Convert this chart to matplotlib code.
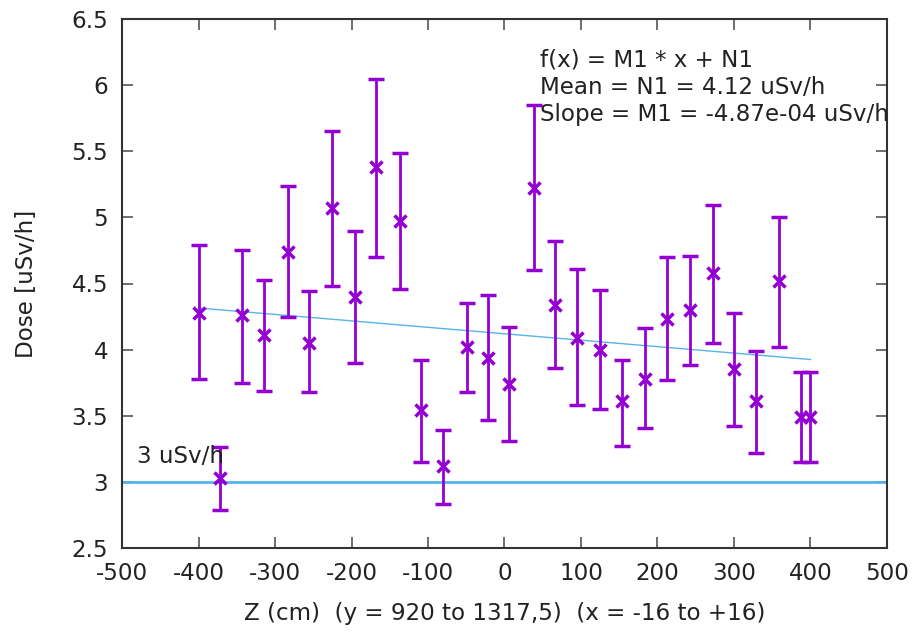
import matplotlib
matplotlib.use("Agg")
import matplotlib.pyplot as plt
import numpy as np

plt.rcParams['axes.unicode_minus'] = False

z = [-400, -372, -343, -314, -283, -255, -225, -196, -168, -137, -109, -81, -49, -22, 6,
     38, 66, 95, 125, 154, 184, 213, 242, 272, 300, 329, 359, 388, 400]
dose = [4.28, 3.03, 4.26, 4.11, 4.74, 4.05, 5.07, 4.40, 5.38, 4.97, 3.54, 3.12, 4.02, 3.94, 3.74,
        5.22, 4.34, 4.09, 4.00, 3.61, 3.78, 4.23, 4.30, 4.58, 3.85, 3.61, 4.52, 3.49, 3.49]
upper = [4.79, 3.26, 4.75, 4.53, 5.24, 4.44, 5.65, 4.90, 6.05, 5.49, 3.92, 3.39, 4.35, 4.41, 4.17,
         5.85, 4.82, 4.61, 4.45, 3.92, 4.16, 4.70, 4.71, 5.09, 4.28, 3.99, 5.00, 3.83, 3.83]
lower = [3.78, 2.79, 3.75, 3.69, 4.25, 3.68, 4.48, 3.90, 4.70, 4.46, 3.15, 2.83, 3.68, 3.47, 3.31,
         4.60, 3.86, 3.58, 3.55, 3.27, 3.41, 3.77, 3.88, 4.05, 3.42, 3.22, 4.02, 3.15, 3.15]
M1 = -4.87e-04
N1 = 4.12
limit = 3.0
fit_x = [-400, 400]

purple = "#9400d3"
blue = "#56b4e9"
FS = 16.6

fig = plt.figure(figsize=(9.19, 6.32), dpi=100)
ax = fig.add_axes([122/919, 1-548/632, 765/919, 529/632])

z_a = np.array(z); d_a = np.array(dose)
yerr = [d_a - np.array(lower), np.array(upper) - d_a]
ax.errorbar(z_a, d_a, yerr=yerr, fmt='x', color=purple, ecolor=purple, elinewidth=2,
            capsize=6, capthick=2, markersize=8, markeredgewidth=2.5, zorder=3)

fx = np.array(fit_x)
ax.plot(fx, M1 * fx + N1, color=blue, lw=1, zorder=2)
ax.axhline(limit, color=blue, lw=2, zorder=2)

ax.text(-481, 3.143, "3 uSv/h", fontsize=FS, color="#222222", ha='left', va='baseline')
ax.text(47, 6.275, "f(x) = M1 * x + N1\nMean = N1 = 4.12 uSv/h\nSlope = M1 = -4.87e-04 uSv/h",
        fontsize=FS, color="#222222", ha='left', va='top', linespacing=1.24)

ax.set_xlim(-500, 500)
ax.set_ylim(2.5, 6.5)
ax.set_xticks(np.arange(-500, 501, 100))
ax.set_yticks(np.arange(2.5, 6.51, 0.5))
ax.set_yticklabels(["2.5", "3", "3.5", "4", "4.5", "5", "5.5", "6", "6.5"])
ax.tick_params(direction='in', length=8, width=1.2, top=True, right=True,
               labelsize=FS, colors="#555555", labelcolor="#222222", pad=10)
for s in ax.spines.values():
    s.set_linewidth(1.5)
    s.set_color("#333333")

ax.set_xlabel("Z (cm)  (y = 920 to 1317,5)  (x = -16 to +16)", fontsize=FS, color="#222222", labelpad=12)
ax.set_ylabel("Dose [uSv/h]", fontsize=FS, color="#222222", labelpad=24)

fig.savefig("out.png", dpi=100)
